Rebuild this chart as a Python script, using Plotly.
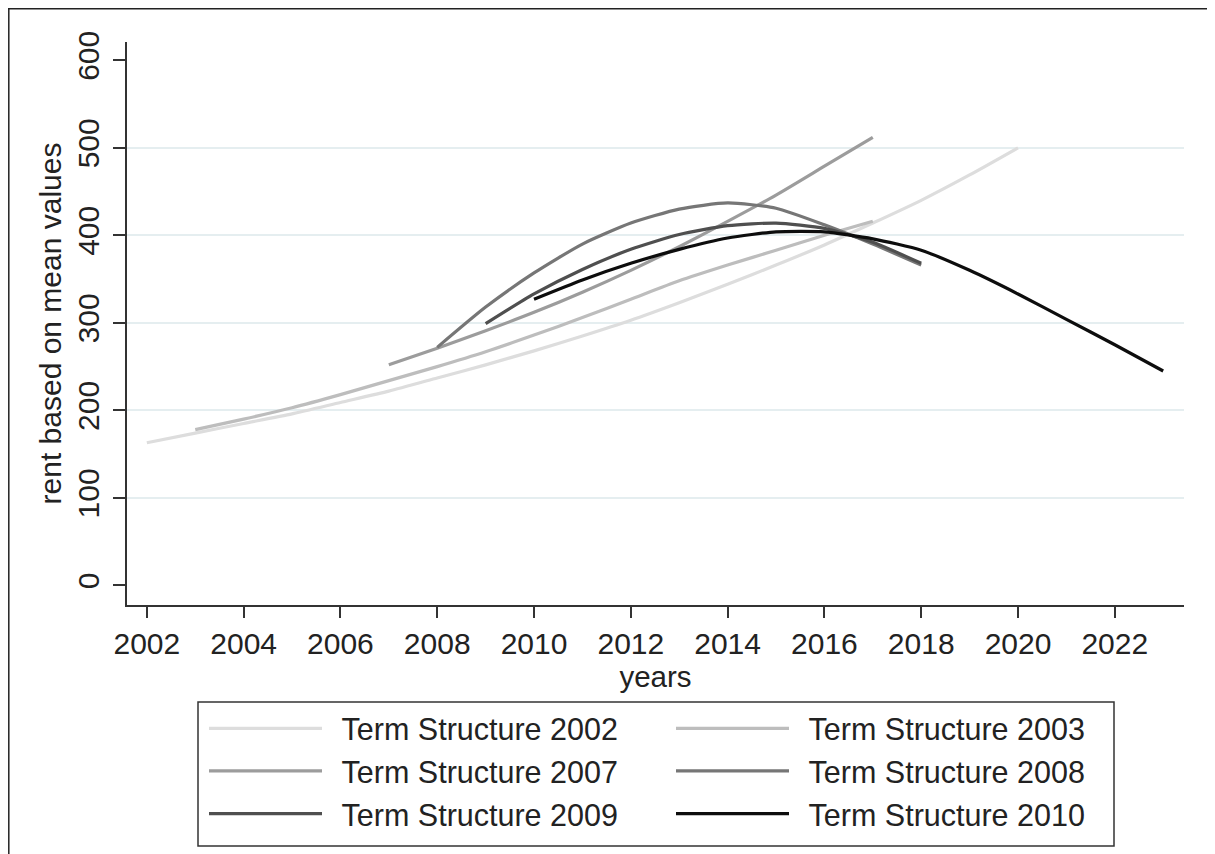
import plotly.graph_objects as go

# ---- data ----
years_2002 = list(range(2002, 2021))
ts_2002 = [163, 174, 185, 196, 209, 222, 237, 252, 268, 285, 303, 323, 344, 366, 389, 414, 440, 469, 500]

years_2003 = list(range(2003, 2018))
ts_2003 = [178, 190, 203, 218, 234, 250, 267, 286, 306, 327, 348, 366, 383, 400, 416]

years_2007 = list(range(2007, 2018))
ts_2007 = [252, 271, 291, 312, 335, 360, 387, 416, 446, 479, 512]

years_2008 = list(range(2008, 2019))
ts_2008 = [272, 318, 357, 390, 414, 430, 437, 431, 412, 390, 366]

years_2009 = list(range(2009, 2019))
ts_2009 = [299, 333, 361, 384, 401, 411, 414, 408, 392, 368]

years_2010 = list(range(2010, 2024))
ts_2010 = [327, 349, 368, 384, 397, 404, 404, 396, 383, 360, 333, 304, 275, 245]

series_names = ["Term Structure 2002", "Term Structure 2003", "Term Structure 2007",
                "Term Structure 2008", "Term Structure 2009", "Term Structure 2010"]
series_x = [years_2002, years_2003, years_2007, years_2008, years_2009, years_2010]
series_y = [ts_2002, ts_2003, ts_2007, ts_2008, ts_2009, ts_2010]
series_colors = ["#dddddd", "#bdbdbd", "#9c9c9c", "#767676", "#4f4f4f", "#0d0d0d"]

x_ticks = list(range(2002, 2023, 2))
y_ticks = [0, 100, 200, 300, 400, 500, 600]
grid_vals = [100, 200, 300, 400, 500]

FONT = "Liberation Sans, Arial, sans-serif"
TXT = "#222222"
AX = "#333333"
PAD = "\u00a0\u2009"

fig = go.Figure()
for name, xs, ys, col in zip(series_names, series_x, series_y, series_colors):
    fig.add_trace(go.Scatter(x=xs, y=ys, mode="lines", name=PAD + name,
                             line=dict(color=col, width=3.2, shape="spline", smoothing=0.6)))

# invisible trace on overlay axis carrying the light grid lines
fig.add_trace(go.Scatter(x=[2002], y=[None], yaxis="y2", showlegend=False,
                         hoverinfo="skip", mode="lines"))

W, H = 1207, 846
X0, X1 = 119, 1176
Y1, Y0 = 34, 597

def px(xp):
    return (xp - X0) / (X1 - X0)

def py(yp):
    return (Y0 - yp) / (Y0 - Y1)

yr = [-22.4, 620.9]
fig.update_layout(
    width=W, height=H,
    margin=dict(l=X0, r=W - X1, t=Y1, b=H - Y0, autoexpand=False),
    paper_bgcolor="white", plot_bgcolor="white",
    font=dict(family=FONT, size=30, color=TXT),
    showlegend=True,
    xaxis=dict(range=[2001.59, 2023.43], tickvals=x_ticks, ticks="outside", ticklen=11,
               tickwidth=1.5, tickcolor=AX, showline=True, linecolor=AX, linewidth=1.5,
               showgrid=False, zeroline=False, tickfont=dict(size=30, color=TXT),
               title=dict(text="years", font=dict(size=29.5, color=TXT), standoff=0)),
    yaxis=dict(range=yr, tickvals=y_ticks, ticks="outside", ticklen=12, tickwidth=1.5,
               tickcolor=AX, showline=True, linecolor=AX, linewidth=1.5, showgrid=False,
               zeroline=False, tickangle=-90, tickfont=dict(size=30, color=TXT),
               ticklabelstandoff=2,
               title=dict(text="rent based on mean values", font=dict(size=30, color=TXT),
                          standoff=2)),
    yaxis2=dict(range=yr, overlaying="y", side="left", tickvals=grid_vals, showgrid=True,
                gridcolor="#e5eef0", gridwidth=1.5, showticklabels=False, ticks="",
                showline=False, zeroline=False),
    legend=dict(orientation="h", x=px(196), y=py(694), xanchor="left", yanchor="top",
                borderwidth=0, bgcolor="rgba(0,0,0,0)",
                font=dict(size=30.5, color=TXT), itemwidth=113, entrywidth=339,
                traceorder="normal"),
    shapes=[
        dict(type="line", xref="paper", yref="paper", x0=px(0), x1=px(W), y0=py(0.8), y1=py(0.8),
             line=dict(color="#222222", width=1.5)),
        dict(type="line", xref="paper", yref="paper", x0=px(0.8), x1=px(0.8), y0=py(0), y1=py(H),
             line=dict(color="#222222", width=1.5)),
        dict(type="rect", xref="paper", yref="paper", x0=px(190), x1=px(1106),
             y0=py(694), y1=py(838), line=dict(color=AX, width=1.5)),
    ],
)

fig.write_html("out.html")
